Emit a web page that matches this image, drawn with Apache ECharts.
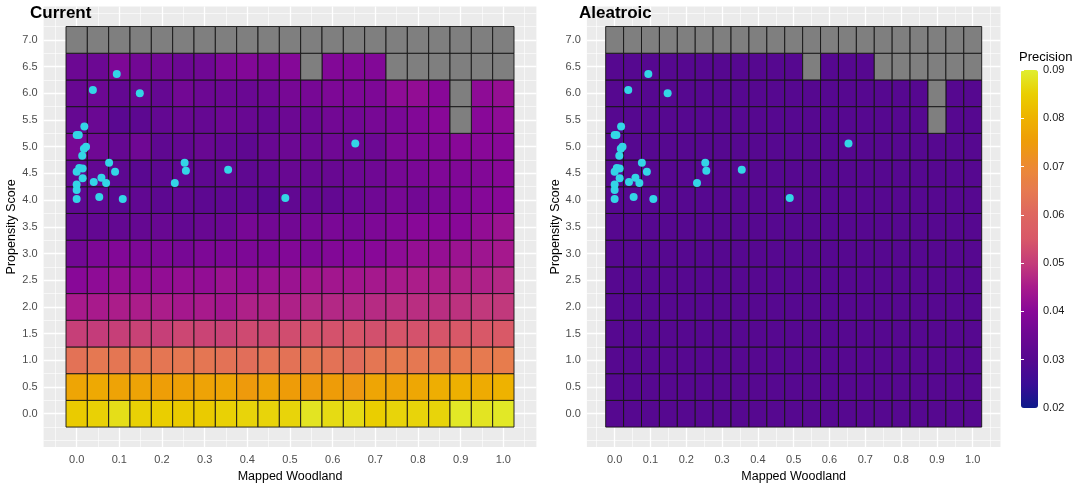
<!DOCTYPE html>
<html>
<head>
<meta charset="utf-8">
<script src="https://cdn.jsdelivr.net/npm/echarts@6/dist/echarts.min.js"></script>
<style>
html, body { margin: 0; padding: 0; background: #ffffff; }
#chart { width: 1083px; height: 488px; }
</style>
</head>
<body>
<div id="chart"></div>
<script>
// Tile centres
const woodland = [0.00, 0.05, 0.10, 0.15, 0.20, 0.25, 0.30, 0.35, 0.40, 0.45, 0.50,
                  0.55, 0.60, 0.65, 0.70, 0.75, 0.80, 0.85, 0.90, 0.95, 1.00];
const propensity = [0.0, 0.5, 1.0, 1.5, 2.0, 2.5, 3.0, 3.5, 4.0, 4.5, 5.0, 5.5, 6.0, 6.5, 7.0];

// Tick labels
const xTicks = [0.0, 0.1, 0.2, 0.3, 0.4, 0.5, 0.6, 0.7, 0.8, 0.9, 1.0];
const yTicks = [0.0, 0.5, 1.0, 1.5, 2.0, 2.5, 3.0, 3.5, 4.0, 4.5, 5.0, 5.5, 6.0, 6.5, 7.0];
const xMinor = [-0.05, 0.05, 0.15, 0.25, 0.35, 0.45, 0.55, 0.65, 0.75, 0.85, 0.95, 1.05];
const yMinor = [-0.5, -0.25, 0.25, 0.75, 1.25, 1.75, 2.25, 2.75, 3.25, 3.75, 4.25, 4.75,
                5.25, 5.75, 6.25, 6.75, 7.25, 7.5];
const legendTicks = [0.02, 0.03, 0.04, 0.05, 0.06, 0.07, 0.08, 0.09];

// Precision per tile; one row per propensity score (first row = 0.0), null = no data
const currentPrecision = [
  /* 0.0 */ [0.0845, 0.0855, 0.0875, 0.0855, 0.085, 0.0845, 0.0845, 0.0855, 0.086, 0.086, 0.086, 0.0885, 0.087, 0.087, 0.085, 0.086, 0.086, 0.086, 0.089, 0.0885, 0.089],
  /* 0.5 */ [0.077, 0.078, 0.0765, 0.0765, 0.0755, 0.076, 0.0765, 0.077, 0.0745, 0.0765, 0.075, 0.0745, 0.075, 0.074, 0.077, 0.0765, 0.0775, 0.079, 0.0795, 0.0785, 0.080],
  /* 1.0 */ [0.063, 0.0645, 0.064, 0.0645, 0.064, 0.0645, 0.064, 0.063, 0.062, 0.0635, 0.063, 0.064, 0.063, 0.0615, 0.064, 0.065, 0.0645, 0.0645, 0.065, 0.065, 0.0655],
  /* 1.5 */ [0.0505, 0.050, 0.0505, 0.051, 0.0505, 0.052, 0.0515, 0.051, 0.0525, 0.052, 0.053, 0.054, 0.054, 0.0545, 0.0535, 0.0545, 0.054, 0.0545, 0.055, 0.055, 0.0555],
  /* 2.0 */ [0.045, 0.045, 0.0455, 0.0455, 0.0455, 0.0445, 0.045, 0.044, 0.046, 0.046, 0.046, 0.047, 0.047, 0.047, 0.0475, 0.048, 0.048, 0.048, 0.0485, 0.0495, 0.0495],
  /* 2.5 */ [0.040, 0.041, 0.042, 0.0415, 0.0415, 0.042, 0.0415, 0.043, 0.042, 0.043, 0.043, 0.044, 0.044, 0.044, 0.0445, 0.045, 0.0455, 0.0455, 0.046, 0.046, 0.047],
  /* 3.0 */ [0.036, 0.038, 0.039, 0.038, 0.038, 0.037, 0.038, 0.038, 0.038, 0.038, 0.039, 0.038, 0.039, 0.0395, 0.040, 0.041, 0.042, 0.042, 0.043, 0.0435, 0.0445],
  /* 3.5 */ [0.033, 0.033, 0.033, 0.0335, 0.034, 0.033, 0.034, 0.0345, 0.037, 0.036, 0.036, 0.037, 0.0375, 0.037, 0.038, 0.039, 0.040, 0.040, 0.040, 0.0415, 0.043],
  /* 4.0 */ [0.032, 0.0325, 0.031, 0.0325, 0.0315, 0.0325, 0.0315, 0.032, 0.032, 0.031, 0.0325, 0.0335, 0.033, 0.0345, 0.0355, 0.037, 0.036, 0.0375, 0.0385, 0.0395, 0.040],
  /* 4.5 */ [0.033, 0.033, 0.0315, 0.031, 0.0315, 0.032, 0.032, 0.033, 0.032, 0.033, 0.034, 0.034, 0.034, 0.035, 0.0355, 0.037, 0.0375, 0.0385, 0.0385, 0.039, 0.040],
  /* 5.0 */ [0.037, 0.0355, 0.0335, 0.0355, 0.032, 0.033, 0.034, 0.033, 0.032, 0.034, 0.035, 0.035, 0.0355, 0.035, 0.035, 0.038, 0.0385, 0.039, 0.040, 0.040, 0.040],
  /* 5.5 */ [0.0335, 0.0345, 0.031, 0.0315, 0.033, 0.034, 0.0335, 0.035, 0.034, 0.0335, 0.035, 0.035, 0.036, 0.036, 0.037, 0.0375, 0.039, 0.040, null, 0.040, 0.041],
  /* 6.0 */ [0.034, 0.035, 0.033, 0.0345, 0.0335, 0.036, 0.035, 0.035, 0.0345, 0.0355, 0.037, 0.037, 0.038, 0.038, 0.038, 0.041, 0.0415, 0.040, null, 0.041, 0.042],
  /* 6.5 */ [0.035, 0.035, 0.038, 0.036, 0.036, 0.035, 0.0355, 0.038, 0.039, 0.038, 0.0395, null, 0.039, 0.039, 0.039, null, null, null, null, null, null],
  /* 7.0 */ [null, null, null, null, null, null, null, null, null, null, null, null, null, null, null, null, null, null, null, null, null]
];

const aleatoricPrecision = [
  /* 0.0 */ [0.030, 0.030, 0.030, 0.030, 0.030, 0.030, 0.030, 0.030, 0.030, 0.030, 0.030, 0.030, 0.030, 0.030, 0.030, 0.030, 0.030, 0.030, 0.030, 0.030, 0.030],
  /* 0.5 */ [0.030, 0.030, 0.030, 0.030, 0.030, 0.030, 0.030, 0.030, 0.030, 0.030, 0.030, 0.030, 0.030, 0.030, 0.030, 0.030, 0.030, 0.030, 0.030, 0.030, 0.030],
  /* 1.0 */ [0.030, 0.030, 0.030, 0.030, 0.030, 0.030, 0.030, 0.030, 0.030, 0.030, 0.030, 0.030, 0.030, 0.030, 0.030, 0.030, 0.030, 0.030, 0.030, 0.030, 0.030],
  /* 1.5 */ [0.030, 0.030, 0.030, 0.030, 0.030, 0.030, 0.030, 0.030, 0.030, 0.030, 0.030, 0.030, 0.030, 0.030, 0.030, 0.030, 0.030, 0.030, 0.030, 0.030, 0.030],
  /* 2.0 */ [0.030, 0.030, 0.030, 0.030, 0.030, 0.030, 0.030, 0.030, 0.030, 0.030, 0.030, 0.030, 0.030, 0.030, 0.030, 0.030, 0.030, 0.030, 0.030, 0.030, 0.030],
  /* 2.5 */ [0.030, 0.030, 0.030, 0.030, 0.030, 0.030, 0.030, 0.030, 0.030, 0.030, 0.030, 0.030, 0.030, 0.030, 0.030, 0.030, 0.030, 0.030, 0.030, 0.030, 0.030],
  /* 3.0 */ [0.030, 0.030, 0.030, 0.030, 0.030, 0.030, 0.030, 0.030, 0.030, 0.030, 0.030, 0.030, 0.030, 0.030, 0.030, 0.030, 0.030, 0.030, 0.030, 0.030, 0.030],
  /* 3.5 */ [0.030, 0.030, 0.030, 0.030, 0.030, 0.030, 0.030, 0.030, 0.030, 0.030, 0.030, 0.030, 0.030, 0.030, 0.030, 0.030, 0.030, 0.030, 0.030, 0.030, 0.030],
  /* 4.0 */ [0.030, 0.030, 0.030, 0.030, 0.030, 0.030, 0.030, 0.030, 0.030, 0.030, 0.030, 0.030, 0.030, 0.030, 0.030, 0.030, 0.030, 0.030, 0.030, 0.030, 0.030],
  /* 4.5 */ [0.030, 0.030, 0.030, 0.030, 0.030, 0.030, 0.030, 0.030, 0.030, 0.030, 0.030, 0.030, 0.030, 0.030, 0.030, 0.030, 0.030, 0.030, 0.030, 0.030, 0.030],
  /* 5.0 */ [0.030, 0.030, 0.030, 0.030, 0.030, 0.030, 0.030, 0.030, 0.030, 0.030, 0.030, 0.030, 0.030, 0.030, 0.030, 0.030, 0.030, 0.030, 0.030, 0.030, 0.030],
  /* 5.5 */ [0.030, 0.030, 0.030, 0.030, 0.030, 0.030, 0.030, 0.030, 0.030, 0.030, 0.030, 0.030, 0.030, 0.030, 0.030, 0.030, 0.030, 0.030, null, 0.030, 0.030],
  /* 6.0 */ [0.030, 0.030, 0.030, 0.030, 0.030, 0.030, 0.030, 0.030, 0.030, 0.030, 0.030, 0.030, 0.030, 0.030, 0.030, 0.030, 0.030, 0.030, null, 0.030, 0.030],
  /* 6.5 */ [0.030, 0.030, 0.030, 0.030, 0.030, 0.030, 0.030, 0.030, 0.030, 0.030, 0.030, null, 0.030, 0.030, 0.030, null, null, null, null, null, null],
  /* 7.0 */ [null, null, null, null, null, null, null, null, null, null, null, null, null, null, null, null, null, null, null, null, null]
];

// Survey sites (mapped woodland fraction, propensity score)
const siteWoodland = [0.094, 0.038, 0.148, 0.018, 0.000, 0.005, 0.653, 0.022, 0.017, 0.013,
                      0.076, 0.253, 0.006, 0.014, 0.000, 0.090, 0.256, 0.355, 0.014, 0.040,
                      0.058, 0.069, 0.230, 0.000, 0.000, 0.000, 0.053, 0.108, 0.489];
const siteScore    = [6.36, 6.06, 6.00, 5.38, 5.22, 5.22, 5.06, 5.00, 4.96, 4.83,
                      4.70, 4.70, 4.60, 4.59, 4.53, 4.53, 4.55, 4.57, 4.41, 4.34,
                      4.42, 4.32, 4.32, 4.29, 4.19, 4.02, 4.06, 4.02, 4.04];

// Precision colour ramp, evenly spaced from 0.02 to 0.09
const rampColors = ['#0d1a8a', '#3a0c96', '#560890', '#6c0893', '#880898', '#a81a8c', '#c43c7a',
                    '#d85868', '#de6660', '#e67a50', '#ec8a34', '#ee9c08', '#eeb200', '#eace00', '#e0ee30'];

const FONT = '"Liberation Sans", Arial, sans-serif';
const X_MIN = -0.0775, X_MAX = 1.0775, Y_MIN = -0.625, Y_MAX = 7.625;
const TILE_W = 0.05, TILE_H = 0.5;

function splitTiles(table) {
  const values = [], missing = [];
  propensity.forEach((y, i) => {
    woodland.forEach((x, j) => {
      const v = table[i][j];
      if (v === null) missing.push([x, y, 0]);
      else values.push([x, y, v]);
    });
  });
  return { values, missing };
}

const cur = splitTiles(currentPrecision);
const ale = splitTiles(aleatoricPrecision);
const sites = siteWoodland.map((x, i) => [x, siteScore[i]]);

function renderTile(params, api) {
  const x = api.value(0), y = api.value(1);
  const a = api.coord([x - TILE_W / 2, y + TILE_H / 2]);
  const b = api.coord([x + TILE_W / 2, y - TILE_H / 2]);
  return {
    type: 'rect',
    shape: { x: a[0], y: a[1], width: b[0] - a[0], height: b[1] - a[1] },
    style: { fill: api.visual('color'), stroke: '#141414', lineWidth: 0.9 }
  };
}

function mainX(gridIndex) {
  return {
    type: 'value', gridIndex, min: X_MIN, max: X_MAX,
    name: 'Mapped Woodland', nameLocation: 'middle', nameGap: 22,
    nameTextStyle: { color: '#000', fontSize: 12.5, fontFamily: FONT },
    axisLine: { show: false },
    axisTick: { show: true, length: 3, customValues: xTicks, lineStyle: { color: '#333', width: 1 } },
    axisLabel: { customValues: xTicks, formatter: v => v.toFixed(1), color: '#4d4d4d', fontSize: 11, margin: 7, fontFamily: FONT },
    splitLine: { show: true, lineStyle: { color: '#ffffff', width: 1.3 } }
  };
}
function minorX(gridIndex) {
  return {
    type: 'value', gridIndex, min: X_MIN, max: X_MAX,
    axisLine: { show: false }, axisLabel: { show: false },
    axisTick: { show: false, customValues: xMinor },
    splitLine: { show: true, lineStyle: { color: '#ffffff', width: 0.6 } }
  };
}
function mainY(gridIndex) {
  return {
    type: 'value', gridIndex, min: Y_MIN, max: Y_MAX,
    name: 'Propensity Score', nameLocation: 'middle', nameGap: 25,
    nameTextStyle: { color: '#000', fontSize: 12.5, fontFamily: FONT },
    axisLine: { show: false },
    axisTick: { show: true, length: 3, customValues: yTicks, lineStyle: { color: '#333', width: 1 } },
    axisLabel: { customValues: yTicks, formatter: v => v.toFixed(1), color: '#4d4d4d', fontSize: 11, margin: 6, fontFamily: FONT },
    splitLine: { show: true, lineStyle: { color: '#ffffff', width: 1.3 } }
  };
}
function minorY(gridIndex) {
  return {
    type: 'value', gridIndex, min: Y_MIN, max: Y_MAX, position: 'left',
    axisLine: { show: false }, axisLabel: { show: false },
    axisTick: { show: false, customValues: yMinor },
    splitLine: { show: true, lineStyle: { color: '#ffffff', width: 0.6 } }
  };
}

const chart = echarts.init(document.getElementById('chart'), null, { renderer: 'canvas' });

chart.setOption({
  animation: false,
  backgroundColor: '#ffffff',
  textStyle: { fontFamily: FONT },
  title: [
    { text: 'Current', left: 30, top: 5, padding: 0, textStyle: { fontSize: 17, fontWeight: 'bold', color: '#000', fontFamily: FONT } },
    { text: 'Aleatroic', left: 579, top: 5, padding: 0, textStyle: { fontSize: 17, fontWeight: 'bold', color: '#000', fontFamily: FONT } },
    { text: 'Precision', left: 1019, top: 51, padding: 0, textStyle: { fontSize: 13, fontWeight: 'normal', color: '#000', fontFamily: FONT } }
  ],
  grid: [
    { left: 43.6, top: 6.5, width: 492.8, height: 442, show: true, backgroundColor: '#ebebeb', borderWidth: 0 },
    { left: 586.9, top: 6.5, width: 413.6, height: 442, show: true, backgroundColor: '#ebebeb', borderWidth: 0 },
    { left: 1021, top: 70, width: 17, height: 338, show: false }
  ],
  xAxis: [
    mainX(0), minorX(0), mainX(1), minorX(1),
    { type: 'value', gridIndex: 2, min: 0, max: 1, show: false }
  ],
  yAxis: [
    mainY(0), minorY(0), mainY(1), minorY(1),
    {
      type: 'value', gridIndex: 2, min: 0.02, max: 0.09, interval: 0.01, position: 'right', z: 5,
      axisLine: { show: false }, splitLine: { show: false },
      axisTick: { show: true, inside: true, length: 3, lineStyle: { color: '#ffffff', width: 1 } },
      axisLabel: { formatter: v => v.toFixed(2), color: '#1a1a1a', fontSize: 11, margin: 5, fontFamily: FONT }
    },
    {
      type: 'value', gridIndex: 2, min: 0.02, max: 0.09, interval: 0.01, position: 'left', z: 5,
      axisLine: { show: false }, splitLine: { show: false }, axisLabel: { show: false },
      axisTick: { show: true, inside: true, length: 3, lineStyle: { color: '#ffffff', width: 1 } }
    }
  ],
  visualMap: {
    type: 'continuous', min: 0.02, max: 0.09, dimension: 2, seriesIndex: [0, 3],
    calculable: false, hoverLink: false, realtime: false,
    orient: 'vertical', left: 1021, top: 70, itemWidth: 17, itemHeight: 338, padding: 0,
    inRange: { color: rampColors }
  },
  series: [
    { type: 'custom', name: 'Current', xAxisIndex: 0, yAxisIndex: 0, renderItem: renderTile,
      dimensions: ['x', 'y', 'precision'], encode: { x: 0, y: 1 }, data: cur.values, z: 2, silent: true },
    { type: 'custom', name: 'Current NA', xAxisIndex: 0, yAxisIndex: 0, renderItem: renderTile,
      itemStyle: { color: '#7f7f7f' }, encode: { x: 0, y: 1 }, data: cur.missing, z: 2, silent: true },
    { type: 'scatter', name: 'Sites', xAxisIndex: 0, yAxisIndex: 0, data: sites, symbolSize: 8,
      itemStyle: { color: '#33d6e6', opacity: 1 }, z: 4, silent: true },
    { type: 'custom', name: 'Aleatroic', xAxisIndex: 2, yAxisIndex: 2, renderItem: renderTile,
      dimensions: ['x', 'y', 'precision'], encode: { x: 0, y: 1 }, data: ale.values, z: 2, silent: true },
    { type: 'custom', name: 'Aleatroic NA', xAxisIndex: 2, yAxisIndex: 2, renderItem: renderTile,
      itemStyle: { color: '#7f7f7f' }, encode: { x: 0, y: 1 }, data: ale.missing, z: 2, silent: true },
    { type: 'scatter', name: 'Sites', xAxisIndex: 2, yAxisIndex: 2, data: sites, symbolSize: 8,
      itemStyle: { color: '#33d6e6', opacity: 1 }, z: 4, silent: true }
  ]
});
</script>
</body>
</html>
